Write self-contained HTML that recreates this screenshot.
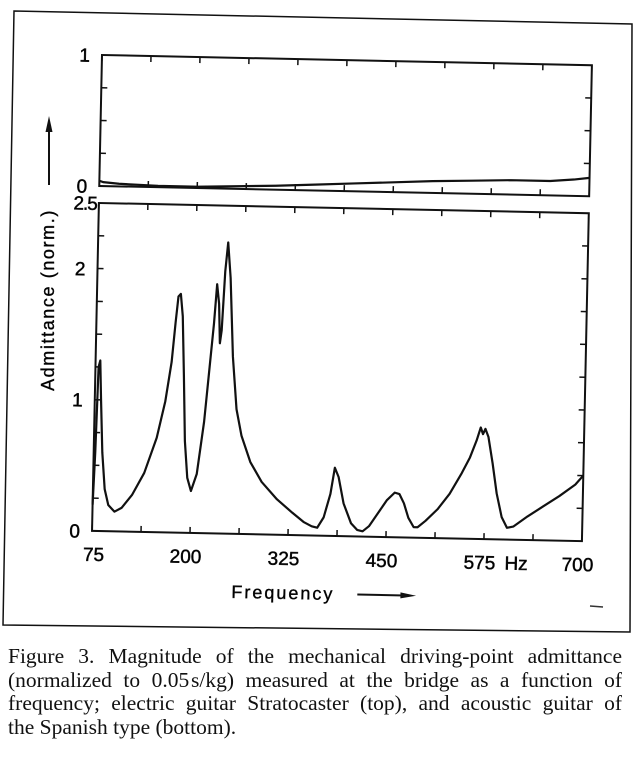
<!DOCTYPE html>
<html><head><meta charset="utf-8"><style>
body{margin:0;background:#fff;width:641px;height:760px;overflow:hidden;position:relative}
svg{position:absolute;left:0;top:0}
.cap{position:absolute;left:8px;top:645px;width:614px;font-family:"Liberation Serif",serif;font-size:21.5px;line-height:23.5px;color:#111}
.cap div{text-align:justify;text-align-last:justify;white-space:nowrap;overflow:hidden}
.cap div.last{text-align-last:left}
</style></head><body>
<svg id="chart" width="641" height="640" xmlns="http://www.w3.org/2000/svg">
<polygon points="14,11 632,24 630,632 3,625" fill="none" stroke="#111" stroke-width="1.5"/>
<g id="plot" transform="translate(102,55) rotate(1.2)"></g>
<text transform="translate(54,300) rotate(-90)" text-anchor="middle" font-family="Liberation Sans, sans-serif" font-size="18" letter-spacing="1.6" stroke="#111" stroke-width="0.4">Admittance (norm.)</text>
<line x1="49" y1="185" x2="49" y2="125" stroke="#111" stroke-width="2"/>
<polygon points="49,116 45.5,132 52.5,132" fill="#111"/>
<line x1="590" y1="606" x2="603" y2="607" stroke="#333" stroke-width="1.5"/>
</svg>
<div class="cap">
<div>Figure 3. Magnitude of the mechanical driving-point admittance</div>
<div>(normalized to 0.05&#8202;s/kg) measured at the bridge as a function of</div>
<div>frequency; electric guitar Stratocaster (top), and acoustic guitar of</div>
<div class="last">the Spanish type (bottom).</div>
</div>
<script>
const xTicks=[75,137.5,200,262.5,325,387.5,450,512.5,575,637.5,700];
const xLabels=["75","200","325","450","575","700"];
const xLabelVals=[75,200,325,450,575,700];
const topFreq=[75,80,100,150,200,250,300,350,400,450,500,550,600,650,680,700];
const topVals=[0.04,0.03,0.02,0.01,0.01,0.02,0.03,0.045,0.06,0.075,0.09,0.1,0.11,0.11,0.125,0.14];
const botFreq=[75,77,79,81,83,86,90,95,103,112,125,140,155,165,172,176,179,182,185,188,191,195,200,207,215,221,225,228,231,233,235,238,241,245,250,256,263,275,290,310,330,345,355,362,370,378,383,388,395,405,413,420,428,438,450,460,466,472,478,485,490,500,515,530,545,555,563,568,571,574,578,584,590,597,604,612,630,650,670,690,700];
const botVals=[0.2,0.6,1.25,1.3,1.0,0.6,0.32,0.2,0.15,0.18,0.28,0.45,0.72,1.0,1.3,1.6,1.8,1.82,1.65,1.2,0.7,0.42,0.32,0.45,0.85,1.3,1.6,1.9,1.75,1.45,1.55,2.0,2.22,1.95,1.35,0.95,0.75,0.55,0.4,0.27,0.17,0.1,0.07,0.06,0.14,0.32,0.52,0.45,0.25,0.1,0.05,0.04,0.08,0.17,0.28,0.34,0.33,0.26,0.15,0.08,0.08,0.13,0.22,0.34,0.5,0.62,0.75,0.85,0.8,0.84,0.78,0.58,0.35,0.17,0.09,0.1,0.18,0.26,0.34,0.43,0.5];
const W=490, topH=131, botY0=148, botH=328;
const NS="http://www.w3.org/2000/svg";
const g=document.getElementById('plot');
const sx=f=>(f-75)/(700-75)*W;
const syT=v=>topH-v/1*topH;
const syB=v=>botY0+botH-v/2.5*botH;
function el(t,a){const e=document.createElementNS(NS,t);for(const k in a)e.setAttribute(k,a[k]);g.appendChild(e);return e;}
const tf="Liberation Sans, sans-serif";
let r1=el('rect',{x:0,y:0,width:W,height:topH,fill:'none',stroke:'#111','stroke-width':2});


let r2=el('rect',{x:0,y:botY0,width:W,height:botH,fill:'none',stroke:'#111','stroke-width':2});


xTicks.forEach(f=>{
 [[0,6],[topH,topH-6],[botY0,botY0+6],[botY0+botH,botY0+botH-6]].forEach(p=>{
  let t=el('line',{x1:sx(f),y1:p[0],x2:sx(f),y2:p[1],stroke:'#111','stroke-width':1.5});
  
  
 });
});
[0.25,0.5,0.75].forEach(v=>{[[0,6],[W,W-6]].forEach(p=>{
 let t=el('line',{x1:p[0],y1:syT(v),x2:p[1],y2:syT(v),stroke:'#111','stroke-width':1.5});
 
 
});});
[0.25,0.5,0.75,1,1.25,1.5,1.75,2,2.25].forEach(v=>{[[0,6],[W,W-6]].forEach(p=>{
 let t=el('line',{x1:p[0],y1:syB(v),x2:p[1],y2:syB(v),stroke:'#111','stroke-width':1.5});
 
 
});});
[[1,syT(1)],[0,syT(0)]].forEach(p=>{
 let t=el('text',{x:-12,y:p[1]+7,'text-anchor':'end','font-family':tf,'font-size':19,stroke:'#111','stroke-width':0.5});
 t.textContent=p[0];
 
 
});
[["2.5",2.5],["2",2],["1",1],["0",0]].forEach(p=>{
 let t=el('text',{x:p[0]==="2.5"?-2:-12,y:syB(p[1])+7,'text-anchor':'end','font-family':tf,'font-size':19,'letter-spacing':p[0]==="2.5"?-1:0,stroke:'#111','stroke-width':0.5});
 t.textContent=p[0];
 
 
});
xLabels.forEach((s,i)=>{
 let x=sx(xLabelVals[i]);
 let t=el('text',{x:i==0?x+2:x-4,y:botY0+botH+30,'text-anchor':'middle','font-family':tf,'font-size':19,stroke:'#111','stroke-width':0.5});
 t.textContent=s;
 
 
});
let hz=el('text',{x:sx(575)+21,y:botY0+botH+30,'font-family':tf,'font-size':19,stroke:'#111','stroke-width':0.5});
hz.textContent="Hz";


let xt=el('text',{x:sx(320),y:botY0+botH+64,'text-anchor':'middle','font-family':tf,'font-size':18,'letter-spacing':2,stroke:'#111','stroke-width':0.4});
xt.textContent="Frequency";


let xa=el('line',{x1:sx(415),y1:botY0+botH+58,x2:sx(475),y2:botY0+botH+58,stroke:'#111','stroke-width':2});


let xh=el('polygon',{points:`${sx(490)},${botY0+botH+58} ${sx(470)},${botY0+botH+55} ${sx(470)},${botY0+botH+61}`,fill:'#111'});


let p1=el('polyline',{points:topFreq.map((f,i)=>sx(f)+','+syT(topVals[i])).join(' '),fill:'none',stroke:'#111','stroke-width':2.2});


let p2=el('polyline',{points:botFreq.map((f,i)=>sx(f)+','+syB(botVals[i])).join(' '),fill:'none',stroke:'#111','stroke-width':2.2,'stroke-linejoin':'round'});


</script>
</body></html>
